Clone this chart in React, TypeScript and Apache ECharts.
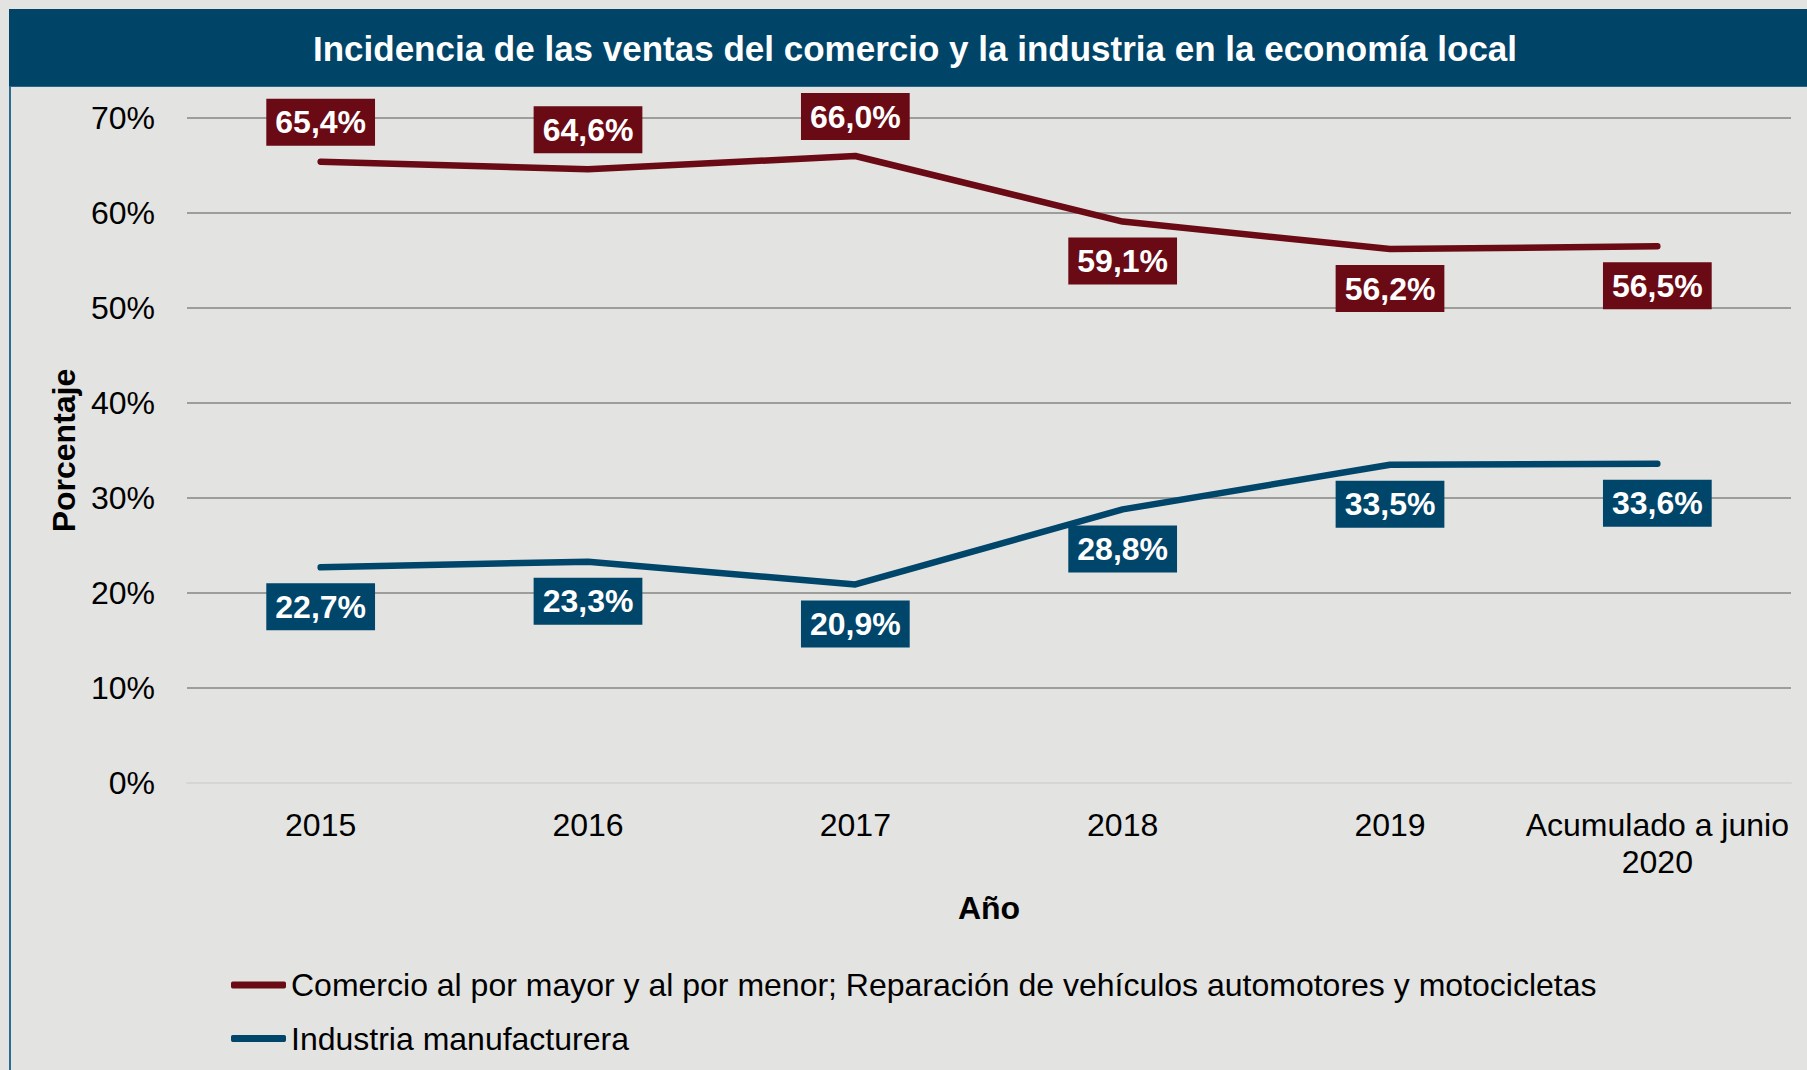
import React, { useEffect, useRef } from "react";
import * as echarts from "echarts";

const titleText = "Incidencia de las ventas del comercio y la industria en la economía local";
const categories = ["2015", "2016", "2017", "2018", "2019", "Acumulado a junio\n2020"];
const comercioName = "Comercio al por mayor y al por menor; Reparación de vehículos automotores y motocicletas";
const industriaName = "Industria manufacturera";
const comercio = [65.4, 64.6, 66.0, 59.1, 56.2, 56.5];
const industria = [22.7, 23.3, 20.9, 28.8, 33.5, 33.6];
const comercioLabelPos = ["top", "top", "top", "bottom", "bottom", "bottom"];
const industriaLabelPos = ["bottom", "bottom", "bottom", "bottom", "bottom", "bottom"];

const RED = "#6a0a15";
const BLUE = "#00456a";
const FONT = "Liberation Sans, Arial, sans-serif";

const fmt = (v: number) => v.toFixed(1).replace(".", ",") + "%";

export default function App() {
  const ref = useRef<HTMLDivElement>(null);
  useEffect(() => {
    if (!ref.current) return;
    const chart = echarts.init(ref.current, undefined, { renderer: "svg" });
    const mkLabel = (color: string) => ({
      show: true,
      formatter: (p: any) => fmt(p.value),
      color: "#fff",
      fontFamily: FONT,
      fontWeight: "bold",
      fontSize: 32,
      lineHeight: 37,
      backgroundColor: color,
      padding: [5, 9, 5, 9],
      distance: 15,
    });
    const option: any = {
      animation: false,
      backgroundColor: "#e3e3e1",
      textStyle: { fontFamily: FONT },
      graphic: [
        { type: "rect", shape: { x: 9, y: 9, width: 1798, height: 78 }, style: { fill: "#004468" }, z: 10 },
        { type: "line", shape: { x1: 9, y1: 86.5, x2: 1807, y2: 86.5 }, style: { stroke: "#2a6688", lineWidth: 1 }, z: 11 },
        { type: "line", shape: { x1: 10, y1: 87, x2: 10, y2: 1070 }, style: { stroke: "#2d6a90", lineWidth: 2 }, z: 10 },
        {
          type: "text",
          x: 915,
          y: 48,
          z: 12,
          style: {
            text: titleText,
            fill: "#ffffff",
            font: `bold 35px ${FONT}`,
            textAlign: "center",
            textVerticalAlign: "middle",
          },
        },
      ],
      grid: { left: 187, right: 16, top: 118, bottom: 287, containLabel: false },
      legend: {
        orient: "vertical",
        left: 226,
        top: 964,
        itemWidth: 55,
        itemHeight: 7,
        itemGap: 21.5,
        icon: "roundRect",
        textStyle: { fontSize: 32, color: "#000", fontFamily: FONT },
        data: [comercioName, industriaName],
      },
      xAxis: {
        type: "category",
        data: categories,
        boundaryGap: true,
        name: "Año",
        nameLocation: "middle",
        nameGap: 109,
        nameTextStyle: { fontSize: 32, fontWeight: "bold", color: "#000", fontFamily: FONT },
        axisLine: { show: true, lineStyle: { color: "#d6d6d4", width: 2 } },
        axisTick: { show: false },
        axisLabel: { fontSize: 32, color: "#000", margin: 23, lineHeight: 37, fontFamily: FONT, interval: 0 },
        splitLine: { show: false },
      },
      yAxis: {
        type: "value",
        min: 0,
        max: 70,
        interval: 10,
        name: "Porcentaje",
        nameLocation: "middle",
        nameRotate: 90,
        nameGap: 103,
        nameTextStyle: { fontSize: 32, fontWeight: "bold", color: "#000", fontFamily: FONT },
        axisLine: { show: false },
        axisTick: { show: false },
        axisLabel: { fontSize: 32, color: "#000", margin: 32, formatter: "{value}%", fontFamily: FONT },
        splitLine: { show: true, lineStyle: { color: "#9d9d9b", width: 2 } },
      },
      series: [
        {
          name: comercioName,
          type: "line",
          data: comercio.map((v, i) => ({ value: v, label: { position: comercioLabelPos[i] } })),
          symbol: "circle",
          symbolSize: 2,
          itemStyle: { color: RED },
          lineStyle: { color: RED, width: 6.5, cap: "round", join: "round" },
          label: mkLabel(RED),
          z: 3,
        },
        {
          name: industriaName,
          type: "line",
          data: industria.map((v, i) => ({ value: v, label: { position: industriaLabelPos[i] } })),
          symbol: "circle",
          symbolSize: 2,
          itemStyle: { color: BLUE },
          lineStyle: { color: BLUE, width: 6.5, cap: "round", join: "round" },
          label: mkLabel(BLUE),
          z: 3,
        },
      ],
    };
    chart.setOption(option);
    return () => chart.dispose();
  }, []);
  return (
    <div
      ref={ref}
      style={{ position: "fixed", left: 0, top: 0, width: 1807, height: 1070 }}
    />
  );
}
